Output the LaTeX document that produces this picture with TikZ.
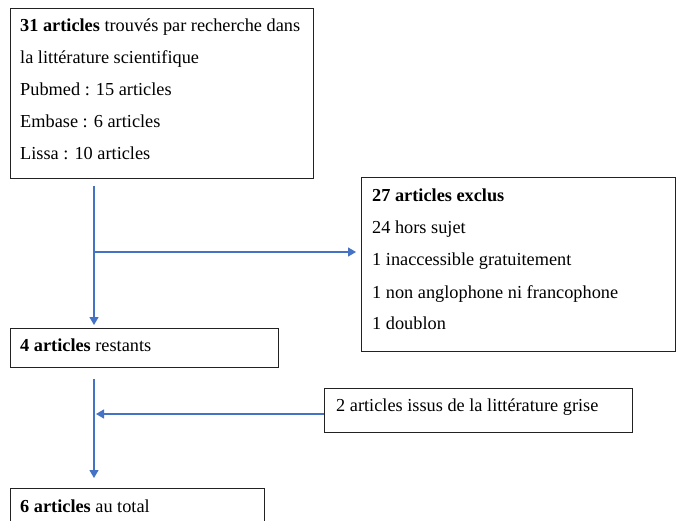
\documentclass[tikz,border=0pt]{standalone}
\usepackage{fontspec}
\setmainfont{Liberation Serif}
\usetikzlibrary{arrows.meta}
\definecolor{linkblue}{HTML}{4472C4}
\definecolor{frame}{HTML}{222222}
\tikzset{
  box/.style={draw=frame, line width=1.1pt, rectangle, inner sep=0pt, anchor=north west},
  txt/.style={anchor=base west, inner sep=0pt, font=\fontsize{18.3}{22}\selectfont, text=black},
  conn/.style={draw=linkblue, line width=1.2pt, -{Triangle[length=8pt,width=9pt]}}
}
\begin{document}
\begin{tikzpicture}[x=1pt,y=-1pt]
\useasboundingbox[fill=white] (0,0) rectangle (676,521);

% boxes
\node[box, minimum width=303pt, minimum height=170pt] (found) at (10,8) {};
\node[box, minimum width=314pt, minimum height=174pt] (excl) at (361,177) {};
\node[box, minimum width=268pt, minimum height=39pt] (rest) at (10,328) {};
\node[box, minimum width=308pt, minimum height=44pt] (grey) at (324,388) {};
\node[box, minimum width=254pt, minimum height=50pt] (total) at (10,488) {};

% texts of the first box
\node[txt] (f1) at (20,32) {\textbf{31 articles} trouvés par recherche dans};
\node[txt] (f2) at (20,63.5) {la littérature scientifique};
\node[txt] (f3) at (20,95.5) {Pubmed : 15 articles};
\node[txt] (f4) at (20,127.5) {Embase : 6 articles};
\node[txt] (f5) at (20,159.5) {Lissa : 10 articles};

% texts of the exclusion box
\node[txt] (e1) at (372,201) {\textbf{27 articles exclus}};
\node[txt] (e2) at (372,233) {24 hors sujet};
\node[txt] (e3) at (372,265.5) {1 inaccessible gratuitement};
\node[txt] (e4) at (372,298) {1 non anglophone ni francophone};
\node[txt] (e5) at (372,329.5) {1 doublon};

% remaining texts
\node[txt] (r1) at (20,351) {\textbf{4 articles} restants};
\node[txt] (g1) at (336,411) {2 articles issus de la littérature grise};
\node[txt] (t1) at (20,512) {\textbf{6 articles} au total};

% connectors
\coordinate (ax) at (94,0);
\coordinate (j1) at (94,252);
\coordinate (j2) at (94,414);
\draw[conn, shorten <=7pt, shorten >=3pt] (ax |- found.south) -- (ax |- rest.north);
\draw[conn, shorten >=5pt] (j1) -- (j1 -| excl.west);
\draw[conn, shorten <=11pt, shorten >=10pt] (ax |- rest.south) -- (ax |- total.north);
\draw[conn, shorten >=2pt] (j2 -| grey.west) -- (j2);
\end{tikzpicture}
\end{document}
